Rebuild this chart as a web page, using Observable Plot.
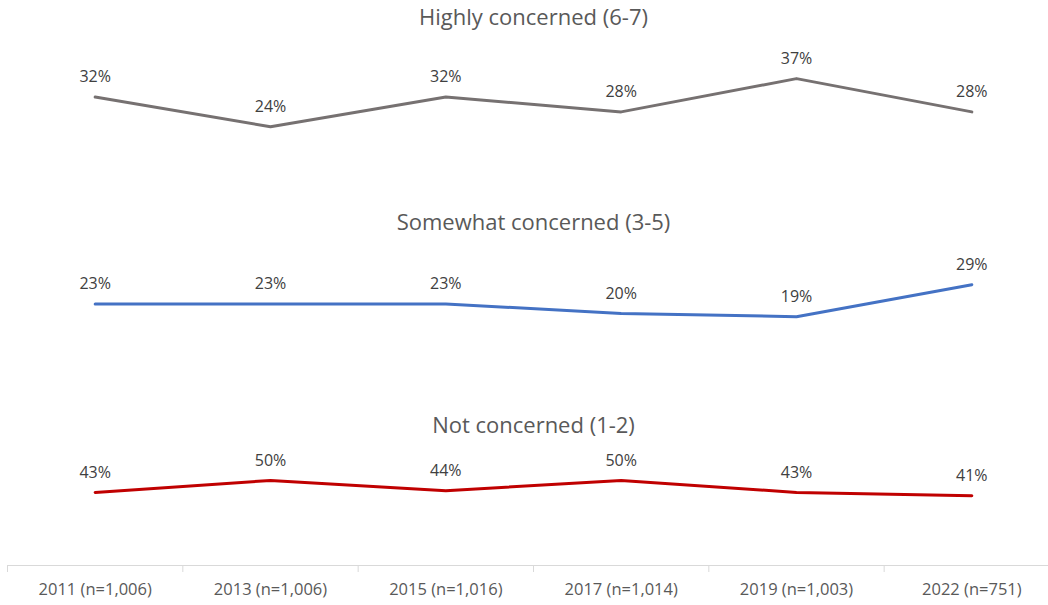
<!DOCTYPE html>
<html>
<head>
<meta charset="utf-8">
<script src="https://cdn.jsdelivr.net/npm/d3@7"></script>
<script src="https://cdn.jsdelivr.net/npm/@observablehq/plot@0.6"></script>
<style>
  html, body { margin: 0; padding: 0; background: #ffffff; }
  #chart { width: 1048px; height: 605px; overflow: hidden; }
  #chart svg { display: block; }
</style>
</head>
<body>
<div id="chart"></div>
<script>
// Survey waves (x axis) and the share of respondents in each concern group
const categories = ["2011 (n=1,006)", "2013 (n=1,006)", "2015 (n=1,016)", "2017 (n=1,014)", "2019 (n=1,003)", "2022 (n=751)"];
const highlyConcerned = [32, 24, 32, 28, 37, 28];
const somewhatConcerned = [23, 23, 23, 20, 19, 29];
const notConcerned = [43, 50, 44, 50, 43, 41];
const panelTitles = ["Highly concerned (6-7)", "Somewhat concerned (3-5)", "Not concerned (1-2)"];

const FONT = "'Open Sans', 'Noto Sans', sans-serif";
const WIDTH = 1048;

// Each group gets its own strip with its own value scale; the strips share the wave axis.
const panels = [
  {title: panelTitles[0], values: highlyConcerned, color: "#767171", yMax: 40, height: 200, marginTop: 67, marginBottom: -15, titleDy: -58, axis: false},
  {title: panelTitles[1], values: somewhatConcerned, color: "#4472c4", yMax: 35, height: 200, marginTop: 65, marginBottom: 23, titleDy: -51, axis: false},
  {title: panelTitles[2], values: notConcerned, color: "#c00000", yMax: 60, height: 205, marginTop: 63, marginBottom: 40, titleDy: -46, axis: true}
];

// Waves sit in the middle of equal-width category slots: slot i spans [i, i + 1]
const slotCenters = categories.map((_, i) => i + 0.5);
const slotEdges = d3.range(categories.length + 1);

function drawPanel(p) {
  const rows = categories.map((c, i) => ({category: c, slot: i + 0.5, value: p.values[i]}));
  const marks = [
    Plot.text([p.title], {
      frameAnchor: "top",
      dy: p.titleDy,
      fontSize: 22,
      fill: "#595959"
    }),
    Plot.line(rows, {
      x: "slot",
      y: "value",
      stroke: p.color,
      strokeWidth: 3,
      strokeLinejoin: "round",
      strokeLinecap: "round"
    }),
    Plot.text(rows, {
      x: "slot",
      y: "value",
      text: d => `${d.value}%`,
      dy: -20,
      fontSize: 16,
      fill: "#404040"
    })
  ];
  if (p.axis) {
    marks.unshift(
      Plot.ruleY([0], {stroke: "#d9d9d9", strokeWidth: 1}),
      Plot.axisX(slotEdges, {tickSize: 7, stroke: "#d9d9d9", tickFormat: () => "", label: null}),
      Plot.axisX(slotCenters, {
        tickSize: 0,
        tickPadding: 18,
        fontSize: 16.5,
        fill: "#595959",
        label: null,
        tickFormat: d => categories[Math.floor(d)]
      })
    );
  }
  return Plot.plot({
    width: WIDTH,
    height: p.height,
    marginLeft: 7,
    marginRight: -11,
    marginTop: p.marginTop,
    marginBottom: p.marginBottom,
    style: {fontFamily: FONT, background: "transparent", overflow: "hidden"},
    x: {type: "linear", domain: [0, categories.length], axis: null, label: null},
    y: {domain: [0, p.yMax], axis: null, label: null},
    marks
  });
}

const root = document.getElementById("chart");
for (const p of panels) root.appendChild(drawPanel(p));
</script>
</body>
</html>
